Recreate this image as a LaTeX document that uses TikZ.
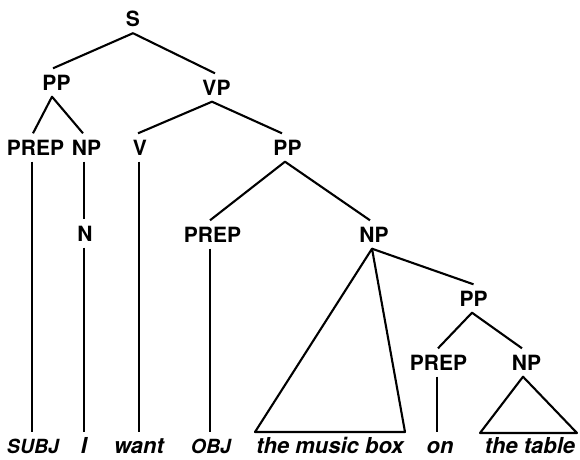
\documentclass[tikz,border=0pt]{standalone}
\usepackage{fontspec}
\setmainfont{TeX Gyre Heros}
\begin{document}
\begin{tikzpicture}[x=1pt,y=-1pt,
  lab/.style={font=\fontsize{21}{21}\selectfont\bfseries, text height=15pt, text depth=0pt, inner xsep=1pt, inner ysep=6.5pt, anchor=base},
  word/.style={font=\fontsize{22}{22}\selectfont\bfseries\itshape, text height=15.5pt, text depth=0pt, inner xsep=0pt, inner ysep=5.5pt, anchor=base},
  sm/.style={font=\fontsize{19.5}{19.5}\selectfont\bfseries\itshape},
  edge/.style={line width=2.1pt, line join=round}]
\useasboundingbox (0,0) rectangle (580,459);
% labels
\node[lab] (S) at (133,26.5) {S};
\node[lab] (PPa) at (56.5,90) {PP};
\node[lab] (VP) at (216.5,95) {VP};
\node[lab] (PREPa) at (35.5,155) {PREP};
\node[lab] (NPa) at (86.5,155) {NP};
\node[lab] (V) at (140,155) {V};
\node[lab] (PPb) at (287.5,155) {PP};
\node[lab] (N) at (85,241) {N};
\node[lab] (PREPb) at (212.5,242) {PREP};
\node[lab] (NPb) at (374,242) {NP};
\node[lab] (PPc) at (473.5,306) {PP};
\node[lab] (PREPc) at (438.5,370) {PREP};
\node[lab] (NPc) at (526.5,370) {NP};
% words
\node[word,sm] (subj) at (33,453) {SUBJ};
\node[word] (i) at (84,453) {I};
\node[word] (want) at (139,453) {want};
\node[word,sm] (obj) at (211,453) {OBJ};
\node[word] (mb) at (330,453) {the music box};
\node[word] (on) at (440,453) {on};
\node[word] (tbl) at (530,453) {the table};
% triangle corners
\coordinate (t1l) at (255,432);
\coordinate (t1r) at (405,432);
\coordinate (t2l) at (480,433);
\coordinate (t2r) at (577,433);
% edges
\draw[edge] ([xshift=-3.5pt]PPa.north) -- (S.south) -- ([xshift=-1.5pt]VP.north);
\draw[edge] ([xshift=-2.5pt]PREPa.north) -- ([xshift=-4.5pt]PPa.south) -- ([xshift=-3.5pt]NPa.north);
\draw[edge] ([xshift=-2pt]V.north) -- ([xshift=-4.5pt]VP.south) -- ([xshift=-5.5pt]PPb.north);
\draw[edge] ([xshift=-3.5pt]PREPa.south) -- ([xshift=-1pt]subj.north);
\draw[edge] ([xshift=-2.5pt]NPa.south) -- ([xshift=-1pt]N.north);
\draw[edge] ([xshift=-1pt]N.south) -- (i.north);
\draw[edge] ([xshift=-1pt]V.south) -- (want.north);
\draw[edge] ([xshift=-2.5pt]PREPb.north) -- ([xshift=-2.5pt]PPb.south) -- ([xshift=-4pt]NPb.north);
\draw[edge] ([xshift=-2.5pt]PREPb.south) -- ([xshift=-1pt]obj.north);
\draw[edge] ([xshift=-2pt]NPb.south) -- (t1l) -- (t1r) -- cycle;
\draw[edge] ([xshift=-2pt]NPb.south) -- (PPc.north);
\draw[edge] ([xshift=-0.5pt]PREPc.north) -- ([xshift=-1.5pt]PPc.south) -- ([xshift=-4.5pt]NPc.north);
\draw[edge] ([xshift=-1.5pt]PREPc.south) -- ([xshift=-3pt]on.north);
\draw[edge] ([xshift=-3.5pt]NPc.south) -- (t2l) -- (t2r) -- cycle;
\end{tikzpicture}
\end{document}
